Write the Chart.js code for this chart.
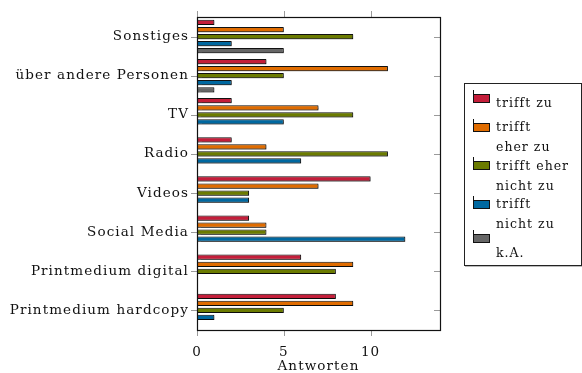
<!DOCTYPE html>
<html>
<head>
<meta charset="utf-8">
<script src="https://cdn.jsdelivr.net/npm/chart.js@4.4.1/dist/chart.umd.min.js"></script>
<style>
  html, body { margin: 0; padding: 0; background: #fff; }
  #wrap { position: relative; width: 582px; height: 373px; }
  #legend {
    position: absolute; left: 464px; top: 83px; width: 116px; height: 181px;
    border: 1px solid #222; box-shadow: 1px 1px 0 #bbb;
    font-family: "DejaVu Serif", serif; font-size: 12.5px; letter-spacing: 1px; color: #111;
  }
  .sw { position: absolute; left: 8px; width: 15px; height: 7px; border: 1px solid #111; }
  .sw::before { content: ""; position: absolute; left: -1px; top: -5px; width: 1px; height: 5px; background: #111; }
  .tx { position: absolute; left: 31px; white-space: nowrap; line-height: 19.5px; }
</style>
</head>
<body>
<div id="wrap">
  <canvas id="barChart" width="582" height="373"></canvas>
  <div id="legend"></div>
</div>
<script>
const categories = [
  "Sonstiges",
  "über andere Personen",
  "TV",
  "Radio",
  "Videos",
  "Social Media",
  "Printmedium digital",
  "Printmedium hardcopy"
];

const trifftZu         = [1, 4, 2, 2, 10, 3, 6, 8];
const trifftEherZu     = [5, 11, 7, 4, 7, 4, 9, 9];
const trifftEherNicht  = [9, 5, 9, 11, 3, 4, 8, 5];
const trifftNichtZu    = [2, 2, 5, 6, 3, 12, 0, 1];
const keineAngabe      = [5, 1, 0, 0, 0, 0, 0, 0];

const xTicks = [0, 5, 10];

const seriesNames = [
  ["trifft zu"],
  ["trifft", "eher zu"],
  ["trifft eher", "nicht zu"],
  ["trifft", "nicht zu"],
  ["k.A."]
];
const seriesColors = ["#c41e3a", "#e06c00", "#6b7b00", "#0068a0", "#666666"];
const seriesData = [trifftZu, trifftEherZu, trifftEherNicht, trifftNichtZu, keineAngabe];

const serif = "'DejaVu Serif', serif";
const spacing = "1.1px";

// frame, tick marks and bar shadows like pgfplots
const framePlugin = {
  id: "frame",
  beforeUpdate(chart) { chart.ctx.letterSpacing = spacing; },
  beforeDraw(chart) { chart.ctx.letterSpacing = spacing; },
  beforeDatasetsDraw(chart) {
    const ctx = chart.ctx;
    ctx.save();
    ctx.shadowColor = "rgba(0,0,0,0.4)";
    ctx.shadowOffsetX = 1;
    ctx.shadowOffsetY = 1;
    ctx.shadowBlur = 1;
  },
  afterDatasetsDraw(chart) {
    chart.ctx.restore();
  },
  afterDraw(chart) {
    const { ctx, chartArea: a, scales } = chart;
    ctx.save();
    ctx.strokeStyle = "#9a9a9a";
    ctx.lineWidth = 1;
    ctx.beginPath();
    xTicks.forEach(v => {
      const x = Math.round(scales.x.getPixelForValue(v)) + 0.5;
      ctx.moveTo(x, a.bottom); ctx.lineTo(x, a.bottom + 6);
      ctx.moveTo(x, a.top - 6); ctx.lineTo(x, a.top);
    });
    categories.forEach((c, i) => {
      const y = Math.round(scales.y.getPixelForValue(i)) + 0.5;
      ctx.moveTo(a.left - 6, y); ctx.lineTo(a.left, y);
      ctx.moveTo(a.right - 6, y); ctx.lineTo(a.right, y);
    });
    ctx.stroke();
    ctx.strokeStyle = "#111";
    ctx.lineWidth = 1.2;
    ctx.strokeRect(Math.round(a.left) + 0.5, Math.round(a.top) + 0.5,
      Math.round(a.right - a.left), Math.round(a.bottom - a.top));
    ctx.restore();
  }
};

const chart = new Chart(document.getElementById("barChart"), {
  type: "bar",
  data: {
    labels: categories,
    datasets: seriesData.map((d, i) => ({
      label: seriesNames[i].join(" "),
      data: d,
      backgroundColor: seriesColors[i],
      borderColor: "#111",
      borderWidth: 1,
      borderSkipped: false,
      categoryPercentage: 0.9,
      barPercentage: 0.75
    }))
  },
  options: {
    indexAxis: "y",
    responsive: false,
    animation: false,
    layout: { padding: { top: 17, right: 142, left: 0, bottom: 0 } },
    plugins: {
      legend: { display: false },
      tooltip: { enabled: false }
    },
    scales: {
      x: {
        min: 0,
        max: 14,
        afterBuildTicks: s => { s.ticks = xTicks.map(v => ({ value: v })); },
        afterFit: s => { s.height = 43; },
        grid: { display: false },
        border: { display: false },
        ticks: { color: "#111", padding: 6, font: { family: serif, size: 13.5 } },
        title: {
          display: true,
          text: "Antworten",
          color: "#111",
          padding: { top: 0, bottom: 0 },
          font: { family: serif, size: 13.5, lineHeight: 1.0 }
        }
      },
      y: {
        afterFit: s => { s.width = 197; },
        grid: { display: false },
        border: { display: false },
        ticks: { color: "#111", padding: 0, font: { family: serif, size: 13.5 } }
      }
    }
  },
  plugins: [framePlugin]
});

// legend built from the series
const legendPos = [[98, 103], [127, 127], [165, 166], [204, 204], [238, 253]];
const legend = document.getElementById("legend");
seriesNames.forEach((lines, i) => {
  const sw = document.createElement("div");
  sw.className = "sw";
  sw.style.background = seriesColors[i];
  sw.style.top = (legendPos[i][0] - 84 - 4) + "px";
  legend.appendChild(sw);
  const tx = document.createElement("div");
  tx.className = "tx";
  tx.style.top = (legendPos[i][1] - 84 - 10) + "px";
  tx.innerHTML = lines.join("<br>");
  legend.appendChild(tx);
});
</script>
</body>
</html>
